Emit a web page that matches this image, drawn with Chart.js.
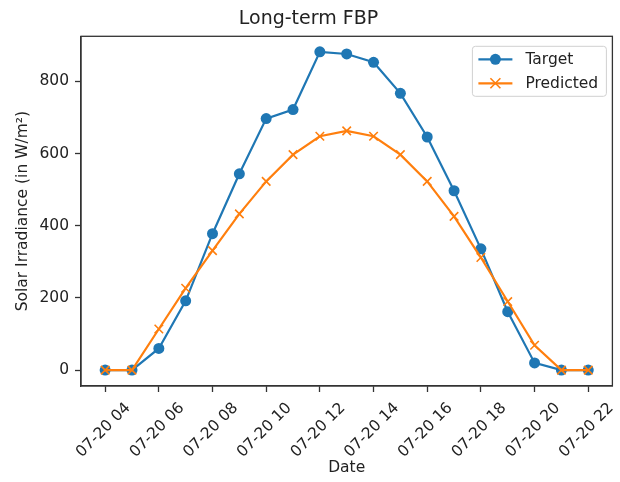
<!DOCTYPE html>
<html>
<head>
<meta charset="utf-8">
<script src="https://cdn.jsdelivr.net/npm/chart.js@4"></script>
<style>
    body { margin: 0; background: #fff; }
    #wrap { width: 620px; height: 482px; }
</style>
</head>
<body>
<div id="wrap"><canvas id="chart" width="620" height="482"></canvas></div>
<script>
const hours = [4, 5, 6, 7, 8, 9, 10, 11, 12, 13, 14, 15, 16, 17, 18, 19, 20, 21, 22];
const target = [0, 0, 60, 192, 378, 544, 697, 722, 882, 876, 853, 767, 646, 497, 336, 162, 20, 0, 0];
const predicted = [0, 0, 114, 227, 331, 433, 523, 597, 648, 663, 648, 597, 523, 426, 312, 190, 69, 0, 0];

const xTicks = [4, 6, 8, 10, 12, 14, 16, 18, 20, 22];
const xTickLabels = ['07-20 04', '07-20 06', '07-20 08', '07-20 10', '07-20 12',
    '07-20 14', '07-20 16', '07-20 18', '07-20 20', '07-20 22'];
const yTicks = [0, 200, 400, 600, 800];

const blue = '#1f77b4';
const orange = '#ff7f0e';
const axisColor = '#333';
const font = 'DejaVu Sans';

// box around the plot + legend in the upper right, like matplotlib
const framePlugin = {
    id: 'frame',
    afterDraw(chart) {
        const { ctx, chartArea: a } = chart;
        ctx.save();
        ctx.strokeStyle = axisColor;
        ctx.lineWidth = 1.3;
        ctx.strokeRect(a.left, a.top, a.right - a.left, a.bottom - a.top);

        const bx = a.right - 140, by = a.top + 10, bw = 134, bh = 50;
        ctx.fillStyle = 'rgba(255,255,255,0.85)';
        ctx.strokeStyle = '#d0d0d0';
        ctx.lineWidth = 1;
        ctx.beginPath();
        ctx.roundRect(bx, by, bw, bh, 3);
        ctx.fill();
        ctx.stroke();

        const items = [
            { label: 'Target', color: blue, marker: 'circle' },
            { label: 'Predicted', color: orange, marker: 'cross' }
        ];
        items.forEach((it, i) => {
            const y = by + 13 + i * 24;
            ctx.strokeStyle = it.color;
            ctx.fillStyle = it.color;
            ctx.lineWidth = 2.2;
            ctx.beginPath();
            ctx.moveTo(bx + 6, y);
            ctx.lineTo(bx + 40, y);
            ctx.stroke();
            const mx = bx + 23;
            if (it.marker === 'circle') {
                ctx.beginPath();
                ctx.arc(mx, y, 5.5, 0, Math.PI * 2);
                ctx.fill();
            } else {
                ctx.lineWidth = 1.6;
                ctx.beginPath();
                ctx.moveTo(mx - 5, y - 5); ctx.lineTo(mx + 5, y + 5);
                ctx.moveTo(mx - 5, y + 5); ctx.lineTo(mx + 5, y - 5);
                ctx.stroke();
            }
            ctx.fillStyle = '#222';
            ctx.font = `15.5px "${font}"`;
            ctx.textBaseline = 'middle';
            ctx.textAlign = 'left';
            ctx.fillText(it.label, bx + 53, y + 1);
        });
        ctx.restore();
    }
};

const ctx = document.getElementById('chart').getContext('2d');
new Chart(ctx, {
    type: 'line',
    data: {
        datasets: [{
            label: 'Target',
            data: hours.map((h, i) => ({ x: h, y: target[i] })),
            borderColor: blue,
            backgroundColor: blue,
            borderWidth: 2.2,
            pointStyle: 'circle',
            pointRadius: 5.5,
            pointBorderWidth: 0,
            tension: 0,
            order: 1
        }, {
            label: 'Predicted',
            data: hours.map((h, i) => ({ x: h, y: predicted[i] })),
            borderColor: orange,
            backgroundColor: orange,
            borderWidth: 2.2,
            pointStyle: 'crossRot',
            pointRadius: 6,
            pointBorderWidth: 1.6,
            tension: 0,
            order: 0
        }]
    },
    options: {
        responsive: false,
        animation: false,
        layout: { padding: { left: 0, right: 3, top: 0, bottom: 0 } },
        plugins: {
            legend: { display: false },
            tooltip: { enabled: false },
            title: {
                display: true,
                text: 'Long-term FBP',
                color: '#222',
                font: { family: font, size: 19, weight: 'normal' },
                padding: { top: 8, bottom: 5.5 }
            }
        },
        scales: {
            x: {
                type: 'linear',
                min: 3.1,
                max: 22.9,
                afterBuildTicks: (scale) => { scale.ticks = xTicks.map(v => ({ value: v })); },
                afterFit: (scale) => { scale.height = 96; },
                grid: { display: true, drawOnChartArea: false, drawTicks: true, tickLength: 6, tickColor: axisColor, tickWidth: 1.3 },
                border: { display: true, color: axisColor, width: 1.3 },
                ticks: {
                    color: '#222',
                    font: { family: font, size: 15.5 },
                    maxRotation: 45,
                    minRotation: 45,
                    labelOffset: 23,
                    padding: 7,
                    callback: (v) => xTickLabels[xTicks.indexOf(v)]
                },
                title: {
                    display: true,
                    text: 'Date',
                    color: '#222',
                    font: { family: font, size: 15.5 },
                    padding: { top: 4, bottom: 5 }
                }
            },
            y: {
                min: -44,
                max: 925,
                afterBuildTicks: (scale) => { scale.ticks = yTicks.map(v => ({ value: v })); },
                afterFit: (scale) => { scale.width = 81; },
                grid: { display: true, drawOnChartArea: false, drawTicks: true, tickLength: 6, tickColor: axisColor, tickWidth: 1.3 },
                border: { display: true, color: axisColor, width: 1.3 },
                ticks: {
                    color: '#222',
                    font: { family: font, size: 15.5 },
                    padding: 6
                },
                title: {
                    display: true,
                    text: 'Solar Irradiance (in W/m²)',
                    color: '#222',
                    font: { family: font, size: 15.5 },
                    padding: { top: 14, bottom: 0 }
                }
            }
        }
    },
    plugins: [framePlugin]
});
</script>
</body>
</html>
